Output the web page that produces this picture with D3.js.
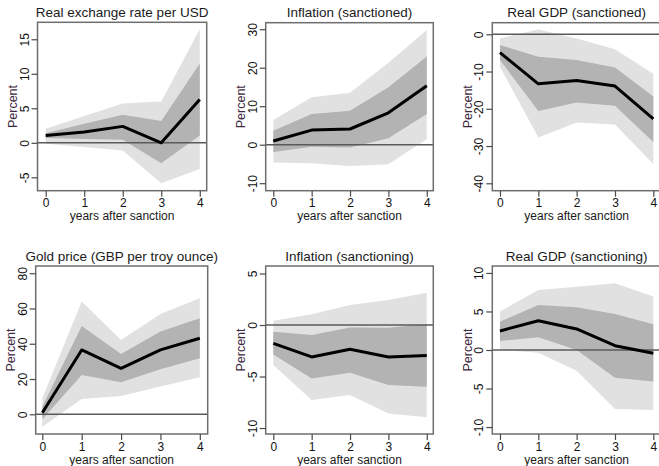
<!DOCTYPE html>
<html>
<head>
<meta charset="utf-8">
<script src="https://cdn.jsdelivr.net/npm/d3@7"></script>
<style>
  html, body { margin: 0; padding: 0; background: #fff; }
  svg { display: block; font-family: "Liberation Sans", Arial, sans-serif; }
</style>
</head>
<body>
<svg id="chart" width="659" height="466"></svg>
<script>
// Horizon: years after the sanction
const years = [0, 1, 2, 3, 4];

// Panel titles
const titles = [
  "Real exchange rate per USD",
  "Inflation (sanctioned)",
  "Real GDP (sanctioned)",
  "Gold price (GBP per troy ounce)",
  "Inflation (sanctioning)",
  "Real GDP (sanctioning)"
];

// Point estimates (percent)
const estimate = [
  [1.07, 1.55, 2.38, 0.0, 6.26],
  [0.95, 3.8, 4.08, 8.3, 15.3],
  [-4.9, -13.3, -12.4, -13.9, -22.7],
  [0.9, 36.5, 26.1, 36.5, 43.1],
  [-1.78, -3.1, -2.36, -3.1, -2.95],
  [2.47, 3.8, 2.73, 0.56, -0.43]
];

// Inner confidence band (dark)
const innerUpper = [
  [1.4, 2.75, 4.08, 3.16, 11.5],
  [3.6, 8.0, 8.85, 14.9, 22.9],
  [-2.9, -6.0, -6.9, -8.9, -16.7],
  [4.3, 50.1, 34.2, 46.9, 54.4],
  [-0.65, -0.97, -0.23, -0.26, 0.1],
  [3.68, 5.84, 5.54, 4.68, 3.33]
];
const innerLower = [
  [0.68, 0.55, 0.44, -2.96, 1.07],
  [-1.9, -0.5, -0.7, 1.65, 8.0],
  [-6.9, -20.6, -18.3, -19.2, -28.9],
  [-2.8, 22.3, 18.1, 25.5, 31.8],
  [-2.85, -5.2, -4.63, -5.83, -6.0],
  [1.17, 1.64, 0.0, -3.6, -4.1]
];

// Outer confidence band (light)
const outerUpper = [
  [2.04, 3.9, 5.68, 6.0, 16.46],
  [6.4, 12.3, 13.5, 21.3, 29.8],
  [-1.1, 1.3, -1.1, -4.0, -10.6],
  [9.1, 63.9, 42.2, 56.9, 65.8],
  [0.42, 1.04, 1.94, 2.43, 3.14],
  [4.98, 7.8, 8.2, 8.66, 6.93]
];
const outerLower = [
  [-0.15, -0.6, -1.1, -5.87, -3.79],
  [-4.6, -4.8, -5.5, -5.1, 1.4],
  [-8.7, -27.7, -23.7, -24.2, -34.8],
  [-7.0, 8.7, 10.4, 15.7, 21.0],
  [-3.88, -7.28, -6.8, -8.58, -8.96],
  [0.0, -0.35, -2.7, -7.66, -7.8]
];

// Y-axis tick labels per panel
const yTicks = [
  [-5, 0, 5, 10, 15],
  [-10, 0, 10, 20, 30],
  [-40, -30, -20, -10, 0],
  [0, 20, 40, 60, 80],
  [-10, -5, 0, 5],
  [-10, -5, 0, 5, 10]
];

// Panel frames (pixels) and value range spanned by each frame
const frames = [
  { x0: 37.5, x1: 206.7, y0: 22.3, y1: 190.7, lo: -6.94, hi: 17.46, xl: -0.213, xr: 4.18 },
  { x0: 265.7, x1: 433.3, y0: 22.7, y1: 190.7, lo: -11.95, hi: 31.7, xl: -0.198, xr: 4.17 },
  { x0: 492.3, x1: 661, y0: 22.7, y1: 190.7, lo: -41.99, hi: 3.11, xl: -0.2, xr: 4.2 },
  { x0: 35.7, x1: 207.7, y0: 266, y1: 434, lo: -11.18, hi: 84.1, xl: -0.168, xr: 4.2 },
  { x0: 265.7, x1: 433.3, y0: 266, y1: 434, lo: -10.58, hi: 5.73, xl: -0.198, xr: 4.17 },
  { x0: 492.3, x1: 661, y0: 266, y1: 434, lo: -10.9, hi: 10.9, xl: -0.2, xr: 4.2 }
];

// plain hyphen-minus for negative tick labels
const fmt = d => String(d);
const tickFont = "12px";

const svg = d3.select("#chart");

titles.forEach((title, i) => {
  const f = frames[i];
  const x = d3.scaleLinear().domain([f.xl, f.xr]).range([f.x0, f.x1]);
  const y = d3.scaleLinear().domain([f.lo, f.hi]).range([f.y1, f.y0]);
  const g = svg.append("g");

  const rows = years.map((yr, k) => ({
    yr,
    est: estimate[i][k],
    iu: innerUpper[i][k], il: innerLower[i][k],
    ou: outerUpper[i][k], ol: outerLower[i][k]
  }));

  const clipId = "clip" + i;
  g.append("clipPath").attr("id", clipId)
    .append("rect").attr("x", f.x0).attr("y", f.y0)
    .attr("width", f.x1 - f.x0).attr("height", f.y1 - f.y0);

  const plot = g.append("g").attr("clip-path", `url(#${clipId})`);

  // outer band
  plot.append("path").datum(rows)
    .attr("fill", "#e1e1e1")
    .attr("d", d3.area().x(d => x(d.yr)).y0(d => y(d.ol)).y1(d => y(d.ou)));
  // inner band
  plot.append("path").datum(rows)
    .attr("fill", "#b3b3b3")
    .attr("d", d3.area().x(d => x(d.yr)).y0(d => y(d.il)).y1(d => y(d.iu)));
  // zero reference line
  plot.append("line")
    .attr("x1", f.x0).attr("x2", f.x1)
    .attr("y1", y(0)).attr("y2", y(0))
    .attr("stroke", "#5a5a5a").attr("stroke-width", 1.5);
  // point estimate
  plot.append("path").datum(rows)
    .attr("fill", "none").attr("stroke", "#000").attr("stroke-width", 3)
    .attr("stroke-linejoin", "round")
    .attr("d", d3.line().x(d => x(d.yr)).y(d => y(d.est)));

  // frame
  g.append("rect")
    .attr("x", f.x0).attr("y", f.y0)
    .attr("width", f.x1 - f.x0).attr("height", f.y1 - f.y0)
    .attr("fill", "none").attr("stroke", "#6e6e6e").attr("stroke-width", 1.5);

  // x axis
  const xAxis = d3.axisBottom(x).tickValues(years).tickSize(6).tickPadding(2)
    .tickFormat(fmt);
  const xg = g.append("g").attr("transform", `translate(0,${f.y1})`).call(xAxis);
  xg.select(".domain").remove();
  xg.selectAll(".tick line").attr("stroke", "#4a4a4a").attr("stroke-width", 1.2);
  xg.selectAll(".tick text").attr("fill", "#111").style("font-size", tickFont)
    .style("font-family", "'Liberation Sans', Arial, sans-serif");

  // y axis with rotated labels
  const yAxis = d3.axisLeft(y).tickValues(yTicks[i]).tickSize(6).tickFormat(fmt);
  const yg = g.append("g").attr("transform", `translate(${f.x0},0)`).call(yAxis);
  yg.select(".domain").remove();
  yg.selectAll(".tick line").attr("stroke", "#4a4a4a").attr("stroke-width", 1.2);
  yg.selectAll(".tick text")
    .attr("x", null).attr("dy", null)
    .attr("transform", "translate(-9,0) rotate(-90)")
    .attr("text-anchor", "middle")
    .attr("fill", "#111").style("font-size", tickFont)
    .style("font-family", "'Liberation Sans', Arial, sans-serif");

  // title
  g.append("text")
    .attr("x", (f.x0 + f.x1) / 2).attr("y", f.y0 - 5.5)
    .attr("text-anchor", "middle").attr("fill", "#1a1a1a")
    .style("font-size", "13.5px")
    .text(title);

  // axis titles
  g.append("text")
    .attr("x", (f.x0 + f.x1) / 2).attr("y", f.y1 + 29.5)
    .attr("text-anchor", "middle").attr("fill", "#1a1a1a")
    .style("font-size", "12px")
    .text("years after sanction");

  g.append("text")
    .attr("transform", `translate(${f.x0 - 20.5},${(f.y0 + f.y1) / 2}) rotate(-90)`)
    .attr("text-anchor", "middle").attr("fill", "#3d2840")
    .style("font-size", "12.5px")
    .text("Percent");
});
</script>
</body>
</html>
